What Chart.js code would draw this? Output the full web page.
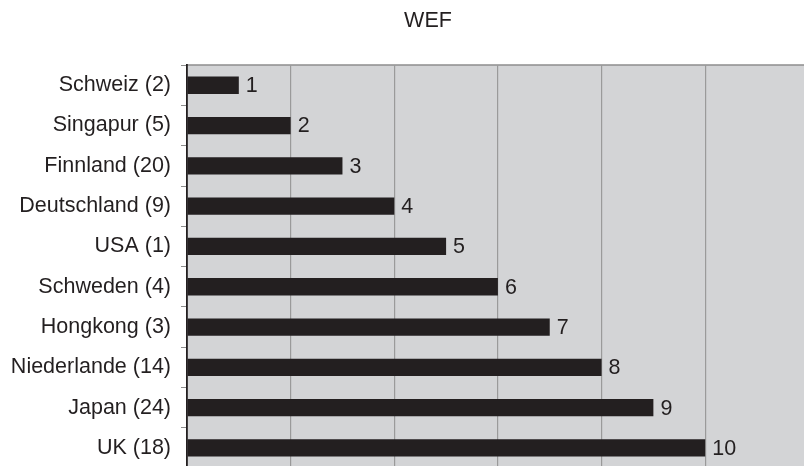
<!DOCTYPE html>
<html>
<head>
<meta charset="utf-8">
<script src="https://cdn.jsdelivr.net/npm/chart.js@4.4.0/dist/chart.umd.min.js"></script>
<style>
  html, body { margin: 0; padding: 0; background: #fff; overflow: hidden; }
  #wrap { position: absolute; left: 0; top: 0; width: 856px; height: 491px; }
</style>
</head>
<body>
<div id="wrap"><canvas id="rankChart" width="856" height="491"></canvas></div>
<script>
const countries = [
  "Schweiz (2)", "Singapur (5)", "Finnland (20)", "Deutschland (9)", "USA (1)",
  "Schweden (4)", "Hongkong (3)", "Niederlande (14)", "Japan (24)", "UK (18)"
];
const ranks = [1, 2, 3, 4, 5, 6, 7, 8, 9, 10];
const titleText = "WEF";

const ink = "#231f20";
const fontFamily = "'Liberation Sans', Arial, sans-serif";

// grey plot background with a thin top edge
const plotBackground = {
  id: 'plotBackground',
  beforeDraw(chart) {
    const { ctx, chartArea: a } = chart;
    ctx.save();
    ctx.fillStyle = '#d3d4d6';
    ctx.fillRect(a.left, a.top, a.right - a.left, a.bottom - a.top);
    ctx.strokeStyle = '#8c8c8c';
    ctx.lineWidth = 1.5;
    ctx.beginPath();
    ctx.moveTo(a.left, a.top);
    ctx.lineTo(a.right, a.top);
    ctx.stroke();
    ctx.restore();
  }
};

// rank number to the right of each bar
const barValues = {
  id: 'barValues',
  afterDatasetsDraw(chart) {
    const { ctx } = chart;
    const meta = chart.getDatasetMeta(0);
    ctx.save();
    ctx.font = '21.5px ' + fontFamily;
    ctx.fillStyle = ink;
    ctx.textAlign = 'left';
    ctx.textBaseline = 'middle';
    meta.data.forEach((bar, i) => {
      ctx.fillText(String(ranks[i]), bar.x + 7, bar.y + 1);
    });
    ctx.restore();
  }
};

new Chart(document.getElementById('rankChart'), {
  type: 'bar',
  data: {
    labels: countries,
    datasets: [{
      data: ranks,
      backgroundColor: ink,
      borderWidth: 0,
      barPercentage: 0.43,
      categoryPercentage: 1
    }]
  },
  options: {
    indexAxis: 'y',
    responsive: false,
    animation: false,
    devicePixelRatio: 1,
    layout: { padding: 0 },
    plugins: {
      legend: { display: false },
      tooltip: { enabled: false },
      title: {
        display: true,
        text: titleText,
        color: ink,
        font: { family: fontFamily, size: 21.5, weight: 'normal', lineHeight: 1.2 },
        padding: { top: 8, bottom: 31.3 }
      }
    },
    scales: {
      x: {
        min: 0,
        max: 12.91,
        ticks: { display: false, stepSize: 2 },
        grid: { color: '#9a9a9a', lineWidth: 1.2, drawTicks: false },
        border: { display: false },
        afterFit(scale) { scale.height = 0; }
      },
      y: {
        ticks: {
          color: ink,
          padding: 10,
          font: { family: fontFamily, size: 21.5 }
        },
        grid: {
          offset: true,
          drawOnChartArea: false,
          drawTicks: true,
          tickLength: 6,
          color: '#8c8c8c'
        },
        border: { display: true, color: ink, width: 1.8 },
        afterFit(scale) { scale.width = 187; }
      }
    }
  },
  plugins: [plotBackground, barValues]
});
</script>
</body>
</html>
